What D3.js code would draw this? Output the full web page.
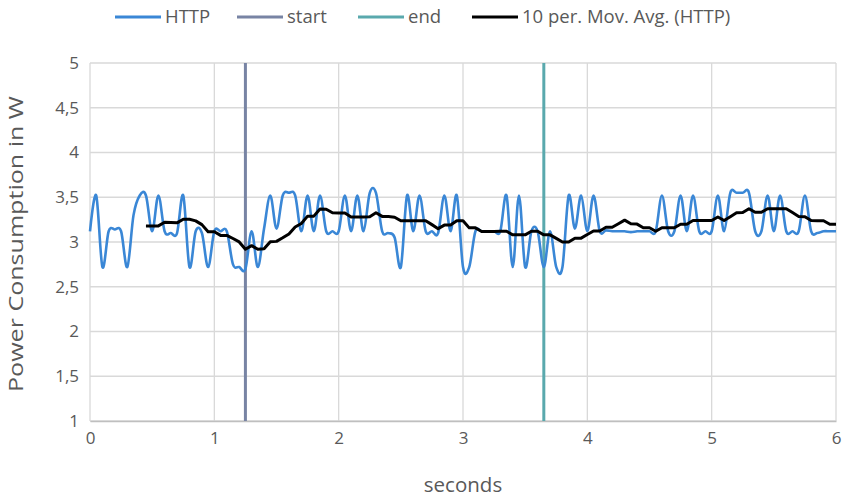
<!DOCTYPE html>
<html>
<head>
<meta charset="utf-8">
<script src="https://cdn.jsdelivr.net/npm/d3@7"></script>
<style>
  body { margin: 0; background: #fff; }
  text { font-family: "Open Sans", sans-serif; fill: #595959; }
</style>
</head>
<body>
<div id="chart"></div>
<script>
// sampling step of the HTTP series (seconds)
const timeStep = 0.05;
// power readings in W, one every 0.05 s from 0 to 6 s
const httpValues = [
  3.12, 3.52, 2.72, 3.12, 3.14, 3.12, 2.72, 3.30, 3.52, 3.52,
  3.12, 3.52, 3.12, 3.10, 3.10, 3.52, 2.72, 3.12, 3.10, 2.72,
  3.12, 3.12, 3.12, 2.75, 2.72, 2.70, 3.12, 2.72, 3.15, 3.52,
  3.15, 3.52, 3.55, 3.52, 3.12, 3.52, 3.12, 3.52, 3.12, 3.12,
  3.12, 3.52, 3.12, 3.52, 3.12, 3.55, 3.55, 3.12, 3.10, 3.05,
  2.72, 3.52, 3.12, 3.52, 3.12, 3.12, 3.10, 3.52, 3.12, 3.52,
  2.72, 2.72, 3.12, 3.12, 3.12, 3.12, 3.12, 3.52, 2.72, 3.52,
  2.72, 3.12, 3.12, 2.72, 3.12, 2.72, 2.72, 3.52, 3.15, 3.52,
  3.12, 3.52, 3.12, 3.13, 3.12, 3.12, 3.12, 3.11, 3.12, 3.12,
  3.12, 3.12, 3.52, 3.12, 3.12, 3.52, 3.12, 3.52, 3.12, 3.12,
  3.12, 3.52, 3.12, 3.55, 3.55, 3.55, 3.55, 3.12, 3.12, 3.52,
  3.12, 3.52, 3.12, 3.12, 3.12, 3.52, 3.12, 3.10, 3.12, 3.12,
  3.12
];
const startTime = 1.25;
const endTime = 3.65;
const movAvgPeriod = 10;

const xTicks = [0, 1, 2, 3, 4, 5, 6];
const yTicks = [1, 1.5, 2, 2.5, 3, 3.5, 4, 4.5, 5];
const xDomain = [0, 6];
const yDomain = [1, 5];

const legendItems = [
  { label: "HTTP", color: "#3a87d6", x: 115 },
  { label: "start", color: "#7884a4", x: 237 },
  { label: "end", color: "#5aa9ad", x: 358 },
  { label: "10 per. Mov. Avg. (HTTP)", color: "#000000", x: 472 }
];

const width = 843, height = 498;
const margin = { top: 63, right: 7, bottom: 77, left: 90 };
const innerW = width - margin.left - margin.right;
const innerH = height - margin.top - margin.bottom;

const svg = d3.select("#chart").append("svg")
  .attr("width", width)
  .attr("height", height);

const g = svg.append("g")
  .attr("transform", `translate(${margin.left},${margin.top})`);

const x = d3.scaleLinear().domain(xDomain).range([0, innerW]);
const y = d3.scaleLinear().domain(yDomain).range([innerH, 0]);

const httpData = httpValues.map((v, i) => ({ t: i * timeStep, v: v }));

// trailing moving average, as Excel draws it
const movAvgData = [];
for (let i = movAvgPeriod - 1; i < httpData.length; i++) {
  const win = httpValues.slice(i - movAvgPeriod + 1, i + 1);
  movAvgData.push({ t: httpData[i].t, v: d3.mean(win) });
}

// gridlines
g.append("g")
  .selectAll("line")
  .data(yTicks)
  .enter()
  .append("line")
    .attr("x1", 0).attr("x2", innerW)
    .attr("y1", d => y(d)).attr("y2", d => y(d))
    .attr("stroke", "#d9d9d9")
    .attr("stroke-width", 1.3);

g.append("g")
  .selectAll("line")
  .data(xTicks)
  .enter()
  .append("line")
    .attr("x1", d => x(d)).attr("x2", d => x(d))
    .attr("y1", 0).attr("y2", innerH)
    .attr("stroke", "#d9d9d9")
    .attr("stroke-width", 1.3);

// axes (labels only, lines come from the grid)
const xAxis = g.append("g")
  .attr("transform", `translate(0,${innerH})`)
  .call(d3.axisBottom(x).tickValues(xTicks).tickSize(0).tickPadding(11).tickFormat(d3.format("d")));
xAxis.select(".domain").attr("stroke", "#bfbfbf").attr("stroke-width", 1.3);
xAxis.selectAll("text").attr("font-size", "17px").attr("fill", "#595959");

const commaFmt = d => String(d).replace(".", ",");
const yAxis = g.append("g")
  .call(d3.axisLeft(y).tickValues(yTicks).tickSize(0).tickPadding(11).tickFormat(commaFmt));
yAxis.select(".domain").remove();
yAxis.selectAll("text").attr("font-size", "17px").attr("fill", "#595959");

// start / end markers
const markers = [
  { t: startTime, color: legendItems[1].color },
  { t: endTime, color: legendItems[2].color }
];
g.selectAll(".marker")
  .data(markers)
  .enter()
  .append("line")
    .attr("class", "marker")
    .attr("x1", d => x(d.t)).attr("x2", d => x(d.t))
    .attr("y1", 0).attr("y2", innerH)
    .attr("stroke", d => d.color)
    .attr("stroke-width", 3);

// HTTP series, smoothed like Excel
const smoothLine = d3.line()
  .x(d => x(d.t))
  .y(d => y(d.v))
  .curve(d3.curveCardinal.tension(0));

g.append("path")
  .datum(httpData)
  .attr("fill", "none")
  .attr("stroke", legendItems[0].color)
  .attr("stroke-width", 2.6)
  .attr("stroke-linejoin", "round")
  .attr("d", smoothLine);

// moving average trendline
const straightLine = d3.line()
  .x(d => x(d.t))
  .y(d => y(d.v));

g.append("path")
  .datum(movAvgData)
  .attr("fill", "none")
  .attr("stroke", "#000")
  .attr("stroke-width", 3)
  .attr("stroke-linejoin", "round")
  .attr("d", straightLine);

// axis titles
svg.append("text")
  .attr("x", margin.left + innerW / 2)
  .attr("y", 492)
  .attr("text-anchor", "middle")
  .attr("font-size", "20.5px")
  .text("seconds");

svg.append("text")
  .attr("transform", `translate(23,${margin.top + innerH / 2 + 2}) rotate(-90)`)
  .attr("text-anchor", "middle")
  .attr("font-size", "20px")
  .attr("textLength", 296)
  .attr("lengthAdjust", "spacingAndGlyphs")
  .text("Power Consumption in W");

// legend
const legend = svg.append("g").attr("transform", "translate(0,17)");
const li = legend.selectAll("g")
  .data(legendItems)
  .enter()
  .append("g")
    .attr("transform", d => `translate(${d.x},0)`);
li.append("line")
  .attr("x1", 0).attr("x2", 46)
  .attr("stroke", d => d.color)
  .attr("stroke-width", 3);
li.append("text")
  .attr("x", 50)
  .attr("dy", "0.35em")
  .attr("font-size", "18.5px")
  .text(d => d.label);
</script>
</body>
</html>
